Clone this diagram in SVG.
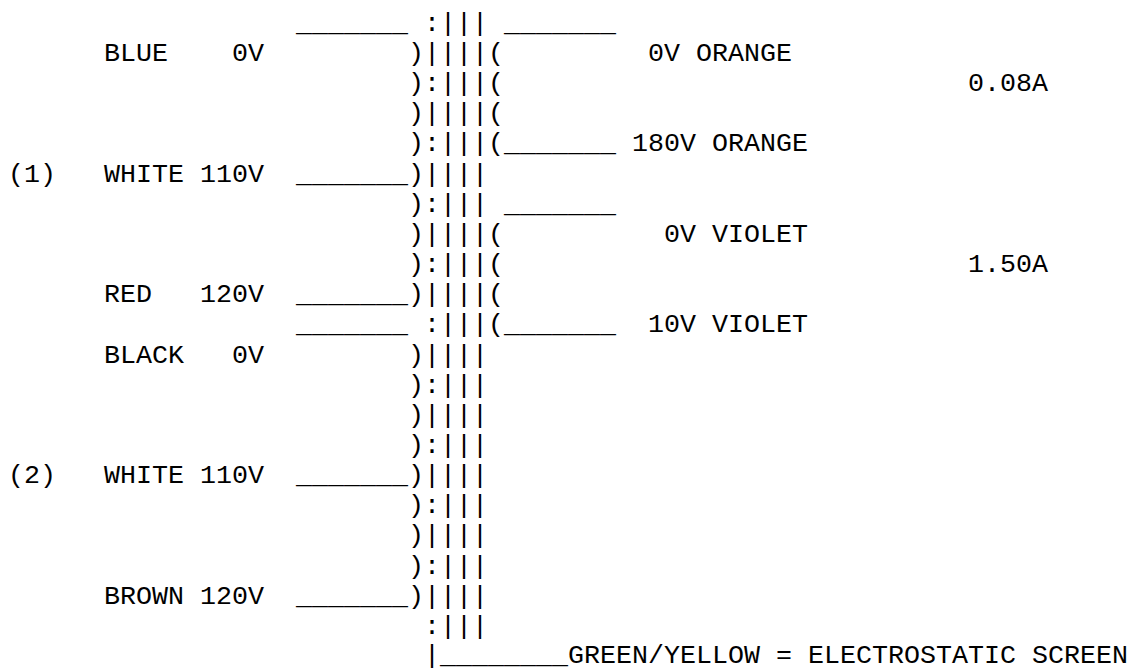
<svg xmlns="http://www.w3.org/2000/svg" width="1137" height="668" viewBox="0 0 1137 668">
<style>
text{font-family:"Liberation Mono","Courier New",monospace;font-size:26.667px;fill:#000;white-space:pre}
</style>
<rect width="1137" height="668" fill="#fff"/>
<g id="primary-labels">
<text x="104" y="61">BLUE</text><text x="232" y="61">0V</text>
<text x="8" y="181.6">(1)</text><text x="104" y="181.6">WHITE 110V</text>
<text x="104" y="302.2">RED</text><text x="200" y="302.2">120V</text>
<text x="104" y="362.5">BLACK</text><text x="232" y="362.5">0V</text>
<text x="8" y="483.1">(2)</text><text x="104" y="483.1">WHITE 110V</text>
<text x="104" y="603.7">BROWN 120V</text>
</g>
<g id="connectors">
<text x="296" y="30.85">_______</text><text x="424" y="30.85">:|||</text><text x="504" y="30.85">_______</text>
<text x="408" y="61">)||||(</text>
<text x="408" y="91.15">):|||(</text>
<text x="408" y="121.3">)||||(</text>
<text x="408" y="151.45">):|||(_______</text>
<text x="296" y="181.6">_______)||||</text>
<text x="408" y="211.75">):|||</text><text x="504" y="211.75">_______</text>
<text x="408" y="241.9">)||||(</text>
<text x="408" y="272.05">):|||(</text>
<text x="296" y="302.2">_______)||||(</text>
<text x="296" y="332.35">_______</text><text x="424" y="332.35">:|||(_______</text>
<text x="408" y="362.5">)||||</text>
<text x="408" y="392.65">):|||</text>
<text x="408" y="422.8">)||||</text>
<text x="408" y="452.95">):|||</text>
<text x="296" y="483.1">_______)||||</text>
<text x="408" y="513.25">):|||</text>
<text x="408" y="543.4">)||||</text>
<text x="408" y="573.55">):|||</text>
<text x="296" y="603.7">_______)||||</text>
<text x="424" y="633.85">:|||</text>
<text x="424" y="662.5">|________</text>
</g>
<g id="secondary-labels">
<text x="648" y="61">0V ORANGE</text>
<text x="968" y="91.15">0.08A</text>
<text x="632" y="151.45">180V ORANGE</text>
<text x="664" y="241.9">0V VIOLET</text>
<text x="968" y="272.05">1.50A</text>
<text x="648" y="332.35">10V VIOLET</text>
</g>
<g id="screen-label">
<text x="568" y="662.5">GREEN/YELLOW = ELECTROSTATIC SCREEN</text>
</g>
</svg>
